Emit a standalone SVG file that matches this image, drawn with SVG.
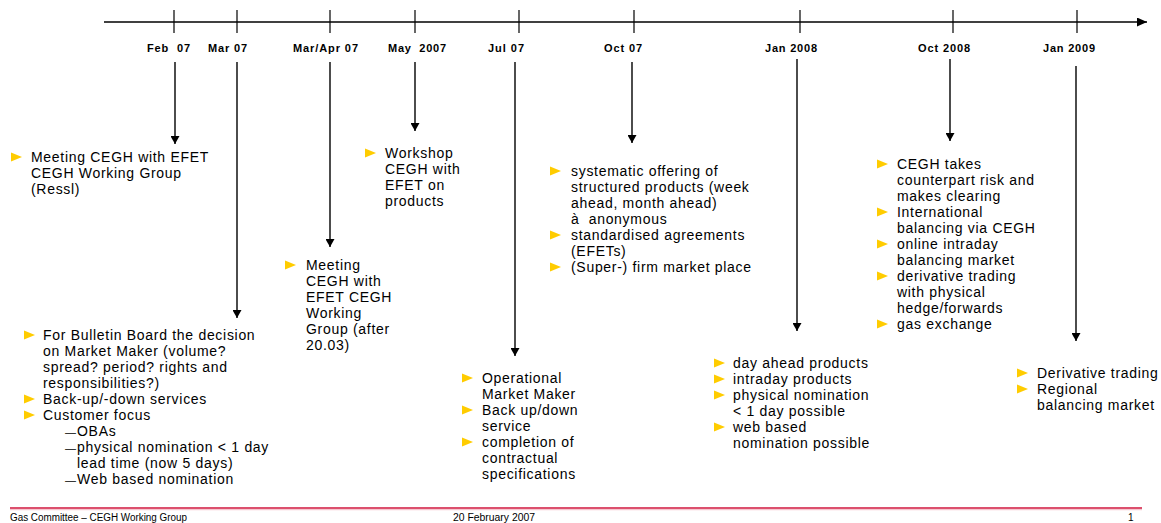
<svg xmlns="http://www.w3.org/2000/svg" xmlns:xlink="http://www.w3.org/1999/xlink" width="1161" height="523" viewBox="0 0 1161 523">
<defs>
<style>
.axis{stroke:#000;stroke-width:1.3;fill:none}
.tick{stroke:#000;stroke-width:1.2}
.conn{stroke:#000;stroke-width:1.4;fill:none}
.lbl{font-family:"Liberation Sans",Arial,sans-serif;font-weight:bold;font-size:11px;fill:#000}
.txt{font-family:"Liberation Sans",Arial,sans-serif;font-size:14px;letter-spacing:0.7px;fill:#000}
.dash{font-size:11px;letter-spacing:0}
.ft{font-family:"Liberation Sans",Arial,sans-serif;font-size:10px;fill:#000}
.bul{fill:#ffcc00}
</style>
<marker id="ah" viewBox="0 0 10 10" refX="10" refY="5" markerUnits="userSpaceOnUse" markerWidth="8" markerHeight="9" orient="auto" preserveAspectRatio="none">
<path d="M0,0 L10,5 L0,10 Z" fill="#000"/>
</marker>
<marker id="ahm" viewBox="0 0 10 10" refX="10" refY="5" markerUnits="userSpaceOnUse" markerWidth="10" markerHeight="9" orient="auto" preserveAspectRatio="none">
<path d="M0,0 L10,5 L0,10 Z" fill="#000"/>
</marker>
<polygon id="b" class="bul" points="0,-4.5 11,0 0,4.5"/>
</defs>
<rect width="1161" height="523" fill="#fff"/>

<g id="timeline">
<line class="axis" x1="104" y1="22" x2="1147" y2="22" marker-end="url(#ahm)"/>
<line class="tick" x1="174" y1="10" x2="174" y2="33"/>
<line class="tick" x1="237" y1="10" x2="237" y2="33"/>
<line class="tick" x1="330" y1="10" x2="330" y2="33"/>
<line class="tick" x1="415" y1="10" x2="415" y2="33"/>
<line class="tick" x1="519" y1="10" x2="519" y2="33"/>
<line class="tick" x1="634" y1="10" x2="634" y2="33"/>
<line class="tick" x1="800" y1="10" x2="800" y2="33"/>
<line class="tick" x1="953" y1="10" x2="953" y2="33"/>
<line class="tick" x1="1077" y1="10" x2="1077" y2="33"/>
<text class="lbl" x="147" y="52" textLength="43" lengthAdjust="spacing" xml:space="preserve">Feb  07</text>
<text class="lbl" x="208" y="52" textLength="39" lengthAdjust="spacing">Mar 07</text>
<text class="lbl" x="293" y="52" textLength="65" lengthAdjust="spacing">Mar/Apr 07</text>
<text class="lbl" x="388" y="52" textLength="58" lengthAdjust="spacing" xml:space="preserve">May  2007</text>
<text class="lbl" x="488" y="52" textLength="36" lengthAdjust="spacing">Jul 07</text>
<text class="lbl" x="604" y="52" textLength="38" lengthAdjust="spacing">Oct 07</text>
<text class="lbl" x="765" y="52" textLength="52" lengthAdjust="spacing">Jan 2008</text>
<text class="lbl" x="918" y="52" textLength="52" lengthAdjust="spacing">Oct 2008</text>
<text class="lbl" x="1043" y="52" textLength="52" lengthAdjust="spacing">Jan 2009</text>
</g>

<g id="connectors">
<line class="conn" x1="175" y1="62" x2="175" y2="144" marker-end="url(#ah)"/>
<line class="conn" x1="237" y1="62" x2="237" y2="318" marker-end="url(#ah)"/>
<line class="conn" x1="330" y1="62" x2="330" y2="247" marker-end="url(#ah)"/>
<line class="conn" x1="415" y1="62" x2="415" y2="131" marker-end="url(#ah)"/>
<line class="conn" x1="515" y1="62" x2="515" y2="356" marker-end="url(#ah)"/>
<line class="conn" x1="632" y1="62" x2="632" y2="143" marker-end="url(#ah)"/>
<line class="conn" x1="797" y1="59" x2="797" y2="331" marker-end="url(#ah)"/>
<line class="conn" x1="950" y1="59" x2="950" y2="141" marker-end="url(#ah)"/>
<line class="conn" x1="1076" y1="66" x2="1076" y2="341" marker-end="url(#ah)"/>
</g>

<g id="node-feb07">
<use xlink:href="#b" href="#b" x="11" y="157"/>
<text class="txt"><tspan x="31" y="162">Meeting CEGH with EFET</tspan><tspan x="31" y="178">CEGH Working Group</tspan><tspan x="31" y="194">(Ressl)</tspan></text>
</g>

<g id="node-mar07">
<use xlink:href="#b" href="#b" x="24" y="335"/>
<use xlink:href="#b" href="#b" x="24" y="399"/>
<use xlink:href="#b" href="#b" x="24" y="415"/>
<text class="txt"><tspan x="43" y="340">For Bulletin Board the decision</tspan><tspan x="43" y="356">on Market Maker (volume?</tspan><tspan x="43" y="372">spread? period? rights and</tspan><tspan x="43" y="388">responsibilities?)</tspan><tspan x="43" y="404">Back-up/-down services</tspan><tspan x="43" y="420">Customer focus</tspan><tspan class="dash" x="65" y="436">—</tspan><tspan x="77" y="436">OBAs</tspan><tspan class="dash" x="65" y="452">—</tspan><tspan x="77" y="452">physical nomination &lt; 1 day</tspan><tspan x="77" y="468">lead time (now 5 days)</tspan><tspan class="dash" x="65" y="484">—</tspan><tspan x="77" y="484">Web based nomination</tspan></text>
</g>

<g id="node-marapr07">
<use xlink:href="#b" href="#b" x="285" y="265"/>
<text class="txt"><tspan x="306" y="270">Meeting</tspan><tspan x="306" y="286">CEGH with</tspan><tspan x="306" y="302">EFET CEGH</tspan><tspan x="306" y="318">Working</tspan><tspan x="306" y="334">Group (after</tspan><tspan x="306" y="350">20.03)</tspan></text>
</g>

<g id="node-may2007">
<use xlink:href="#b" href="#b" x="365" y="153"/>
<text class="txt"><tspan x="385" y="158">Workshop</tspan><tspan x="385" y="174">CEGH with</tspan><tspan x="385" y="190">EFET on</tspan><tspan x="385" y="206">products</tspan></text>
</g>

<g id="node-jul07">
<use xlink:href="#b" href="#b" x="462" y="378"/>
<use xlink:href="#b" href="#b" x="462" y="410"/>
<use xlink:href="#b" href="#b" x="462" y="442"/>
<text class="txt"><tspan x="482" y="383">Operational</tspan><tspan x="482" y="399">Market Maker</tspan><tspan x="482" y="415">Back up/down</tspan><tspan x="482" y="431">service</tspan><tspan x="482" y="447">completion of</tspan><tspan x="482" y="463">contractual</tspan><tspan x="482" y="479">specifications</tspan></text>
</g>

<g id="node-oct07">
<use xlink:href="#b" href="#b" x="550" y="171"/>
<use xlink:href="#b" href="#b" x="550" y="235"/>
<use xlink:href="#b" href="#b" x="550" y="267"/>
<text class="txt"><tspan x="571" y="176">systematic offering of</tspan><tspan x="571" y="192">structured products (week</tspan><tspan x="571" y="208">ahead, month ahead)</tspan><tspan x="571" y="224" xml:space="preserve">à  anonymous</tspan><tspan x="571" y="240">standardised agreements</tspan><tspan x="571" y="256">(EFETs)</tspan><tspan x="571" y="272">(Super-) firm market place</tspan></text>
</g>

<g id="node-jan2008">
<use xlink:href="#b" href="#b" x="714" y="363"/>
<use xlink:href="#b" href="#b" x="714" y="379"/>
<use xlink:href="#b" href="#b" x="714" y="395"/>
<use xlink:href="#b" href="#b" x="714" y="427"/>
<text class="txt"><tspan x="733" y="368">day ahead products</tspan><tspan x="733" y="384">intraday products</tspan><tspan x="733" y="400">physical nomination</tspan><tspan x="733" y="416">&lt; 1 day possible</tspan><tspan x="733" y="432">web based</tspan><tspan x="733" y="448">nomination possible</tspan></text>
</g>

<g id="node-oct2008">
<use xlink:href="#b" href="#b" x="877" y="164"/>
<use xlink:href="#b" href="#b" x="877" y="212"/>
<use xlink:href="#b" href="#b" x="877" y="244"/>
<use xlink:href="#b" href="#b" x="877" y="276"/>
<use xlink:href="#b" href="#b" x="877" y="324"/>
<text class="txt"><tspan x="897" y="169">CEGH takes</tspan><tspan x="897" y="185">counterpart risk and</tspan><tspan x="897" y="201">makes clearing</tspan><tspan x="897" y="217">International</tspan><tspan x="897" y="233">balancing via CEGH</tspan><tspan x="897" y="249">online intraday</tspan><tspan x="897" y="265">balancing market</tspan><tspan x="897" y="281">derivative trading</tspan><tspan x="897" y="297">with physical</tspan><tspan x="897" y="313">hedge/forwards</tspan><tspan x="897" y="329">gas exchange</tspan></text>
</g>

<g id="node-jan2009">
<use xlink:href="#b" href="#b" x="1017" y="373"/>
<use xlink:href="#b" href="#b" x="1017" y="389"/>
<text class="txt"><tspan x="1037" y="378">Derivative trading</tspan><tspan x="1037" y="394">Regional</tspan><tspan x="1037" y="410">balancing market</tspan></text>
</g>

<g id="footer">
<line x1="10" y1="508" x2="1142" y2="508" stroke="#d0163c" stroke-width="1.6"/>
<line x1="10" y1="509.7" x2="1142" y2="509.7" stroke="#f2a6b4" stroke-width="0.8"/>
<text class="ft" x="10" y="521" textLength="177" lengthAdjust="spacingAndGlyphs">Gas Committee – CEGH Working Group</text>
<text class="ft" x="453" y="521" textLength="82" lengthAdjust="spacingAndGlyphs">20 February 2007</text>
<text class="ft" x="1128" y="521">1</text>
</g>
</svg>
